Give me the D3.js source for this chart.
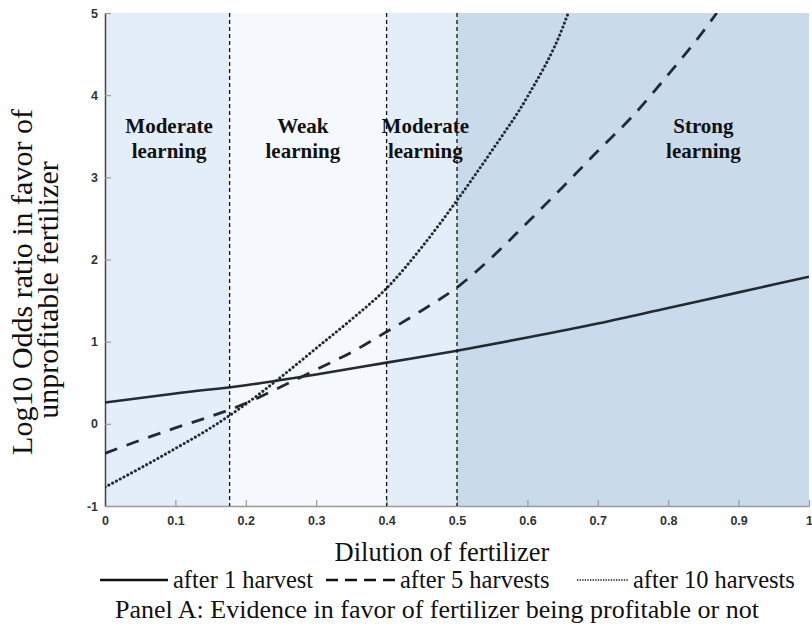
<!DOCTYPE html>
<html><head><meta charset="utf-8">
<script src="https://cdn.jsdelivr.net/npm/d3@7"></script>
<style>
body{margin:0;background:#fff;}
svg{display:block;}
</style></head>
<body>
<svg id="chart" width="812" height="635"></svg>
<script>
// ---- data ----
const xTicks = [0,0.1,0.2,0.3,0.4,0.5,0.6,0.7,0.8,0.9,1];
const xTickLabels = ["0","0.1","0.2","0.3","0.4","0.5","0.6","0.7","0.8","0.9","1"];
const yTicks = [-1,0,1,2,3,4,5];
const yTickLabels = ["-1","0","1","2","3","4","5"];

const regionBounds = [[0,0.177],[0.177,0.4],[0.4,0.5],[0.5,1]];
const regionNames = [["Moderate","learning"],["Weak","learning"],["Moderate","learning"],["Strong","learning"]];
const regionLabelX = [0.091,0.281,0.455,0.85];
const regionColors = ["#e4eef8","#f5f9fd","#e4eef8","#c9dbeb"];
const dividers = [0.177,0.4,0.5];

const harvest1X = [0,0.1,0.2,0.3,0.4,0.5,0.6,0.7,0.8,0.9,1];
const harvest1Y = [0.26,0.37,0.47,0.6,0.745,0.89,1.05,1.22,1.41,1.6,1.79];

const harvest5X = [0,0.05,0.1,0.15,0.2,0.25,0.3,0.35,0.4,0.45,0.5,0.55,0.6,0.65,0.7,0.75,0.8,0.85,0.869];
const harvest5Y = [-0.36,-0.2,-0.05,0.09,0.25,0.45,0.66,0.87,1.12,1.38,1.66,2.03,2.45,2.88,3.32,3.75,4.25,4.78,5.0];

const harvest10X = [0,0.05,0.1,0.15,0.2,0.25,0.3,0.35,0.4,0.45,0.5,0.55,0.6,0.65,0.658];
const harvest10Y = [-0.77,-0.54,-0.3,-0.05,0.24,0.57,0.92,1.27,1.65,2.15,2.72,3.33,3.98,4.82,5.0];

const legendLabels = ["after 1 harvest","after 5 harvests","after 10 harvests"];

// ---- drawing ----
const svg = d3.select("#chart");
const L = 105, R = 809, T = 13, B = 506;
const x = d3.scaleLinear().domain([0,1]).range([L,R]);
const y = d3.scaleLinear().domain([-1,5]).range([B,T]);
const serif = "Liberation Serif, 'Times New Roman', serif";
const sans = "Liberation Sans, Arial, sans-serif";

// regions
svg.append("g").selectAll("rect").data(regionBounds).join("rect")
  .attr("x", d => x(d[0])).attr("y", T)
  .attr("width", d => x(d[1]) - x(d[0])).attr("height", B - T)
  .attr("fill", (d,i) => regionColors[i]);

// axes
const xAxis = d3.axisBottom(x).tickValues(xTicks).tickFormat((d,i)=>xTickLabels[i]).tickSizeInner(-6).tickSizeOuter(0).tickPadding(10);
const gx = svg.append("g").attr("transform",`translate(0,${B})`).call(xAxis);
gx.select(".domain").attr("stroke","#9a9a9a").attr("stroke-width",1.5);
gx.selectAll(".tick line").attr("stroke","#9a9a9a").attr("stroke-width",1.2);
gx.selectAll(".tick text").attr("font-family",sans).attr("font-weight","bold").attr("font-size",12.5).attr("fill","#333");

const yAxis = d3.axisLeft(y).tickValues(yTicks).tickFormat((d,i)=>yTickLabels[i]).tickSizeInner(-6).tickSizeOuter(0).tickPadding(7);
const gy = svg.append("g").attr("transform",`translate(${L},0)`).call(yAxis);
gy.select(".domain").attr("stroke","#444").attr("stroke-width",1.5);
gy.selectAll(".tick line").attr("stroke","#9a9a9a").attr("stroke-width",1.2);
gy.selectAll(".tick text").attr("font-family",sans).attr("font-weight","bold").attr("font-size",12.5).attr("fill","#333");

// clip
svg.append("clipPath").attr("id","clip").append("rect").attr("x",L).attr("y",T).attr("width",R-L).attr("height",B-T);

// curves
const line = d3.line().x(d=>x(d[0])).y(d=>y(d[1])).curve(d3.curveMonotoneX);
const curveColor = "#232a33";
const series = [
  {xs: harvest1X, ys: harvest1Y, dash: null, w: 2.6, cap: "butt"},
  {xs: harvest5X, ys: harvest5Y, dash: "13,10", w: 2.8, cap: "butt"},
  {xs: harvest10X, ys: harvest10Y, dash: "0.1,4.2", w: 3.0, cap: "round"}
];
const gc = svg.append("g").attr("clip-path","url(#clip)");
series.forEach(s => {
  gc.append("path").datum(s.xs.map((v,i)=>[v,s.ys[i]]))
    .attr("d", line).attr("fill","none").attr("stroke",curveColor)
    .attr("stroke-width", s.w).attr("stroke-dasharray", s.dash).attr("stroke-linecap", s.cap);
});

// divider lines
svg.append("g").selectAll("line").data(dividers).join("line")
  .attr("x1", d=>x(d)).attr("x2", d=>x(d)).attr("y1", T).attr("y2", B)
  .attr("stroke","#111").attr("stroke-width",1.3).attr("stroke-dasharray","4,3");

// region labels
const gl = svg.append("g").attr("font-family",serif).attr("font-weight","bold").attr("font-size",21).attr("fill","#111").attr("text-anchor","middle");
regionNames.forEach((nm,i)=>{
  nm.forEach((t,j)=>{
    gl.append("text").attr("x", x(regionLabelX[i])).attr("y", 133 + j*25).text(t);
  });
});

// axis titles
svg.append("text").attr("x", 442).attr("y", 561).attr("text-anchor","middle")
  .attr("font-family",serif).attr("font-size",26.5).attr("fill","#111").text("Dilution of fertilizer");
const yt = svg.append("g").attr("transform","translate(0,282) rotate(-90)");
yt.append("text").attr("x",0).attr("y",32).attr("text-anchor","middle").attr("font-family",serif).attr("font-size",30).attr("fill","#111").text("Log10 Odds ratio in favor of");
yt.append("text").attr("x",-8).attr("y",58).attr("text-anchor","middle").attr("font-family",serif).attr("font-size",30).attr("fill","#111").text("unprofitable fertilizer");

// legend
const legY = 580;
const legItems = [
  {x1:100,x2:168,tx:173,dash:null,w:2.5},
  {x1:326,x2:395,tx:400,dash:"12,7",w:2.5},
  {x1:577,x2:628,tx:633,dash:"1.3,1.3",w:1.6}
];
legItems.forEach((it,i)=>{
  svg.append("line").attr("x1",it.x1).attr("x2",it.x2).attr("y1",legY).attr("y2",legY)
    .attr("stroke","#111").attr("stroke-width", it.w).attr("stroke-dasharray",it.dash);
  svg.append("text").attr("x",it.tx).attr("y",legY+8).attr("font-family",serif).attr("font-size",24.5).attr("fill","#111").text(legendLabels[i]);
});

svg.append("text").attr("x",437).attr("y",618).attr("text-anchor","middle")
  .attr("font-family",serif).attr("font-size",26).attr("fill","#111").text("Panel A: Evidence in favor of fertilizer being profitable or not");
</script>
</body></html>
